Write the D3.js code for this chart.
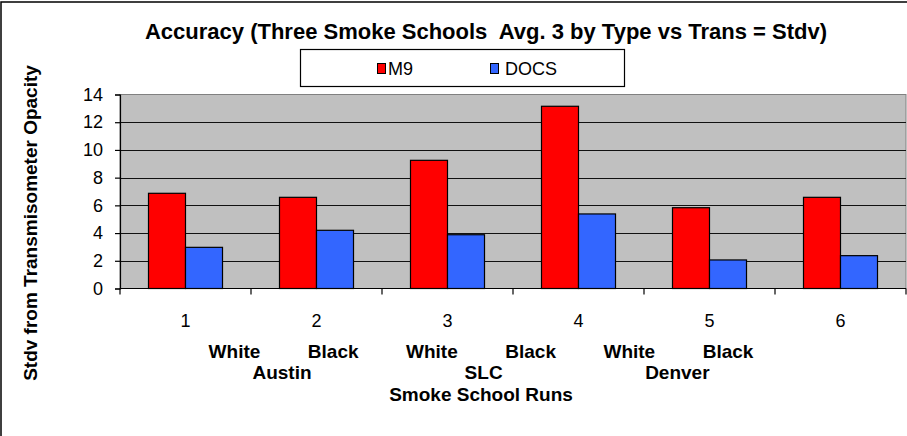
<!DOCTYPE html>
<html>
<head>
<meta charset="utf-8">
<script src="https://cdn.jsdelivr.net/npm/d3@7"></script>
<style>
  html, body { margin: 0; padding: 0; background: #fff; }
  svg { display: block; font-family: "Liberation Sans", Arial, sans-serif; }
</style>
</head>
<body>
<svg id="chart" width="907" height="436"></svg>
<script>
// Smoke school runs and the standard deviation of each reader type
const categories = ["1", "2", "3", "4", "5", "6"];
const seriesNames = ["M9", "DOCS"];
const m9Values   = [6.87, 6.58, 9.25, 13.15, 5.83, 6.58];
const docsValues = [2.97, 4.20, 3.88, 5.38, 2.06, 2.37];
const yTicks = [0, 2, 4, 6, 8, 10, 12, 14];
const seriesColors = ["#FF0000", "#3366FF"];

const titleText = "Accuracy (Three Smoke Schools  Avg. 3 by Type vs Trans = Stdv)";
const yTitleText = "Stdv from Transmisometer Opacity";
const xTitleLines = [
  "White         Black         White         Black         White         Black",
  "Austin                             SLC                           Denver",
  "Smoke School Runs"
];

const svg = d3.select("#chart");
const W = 907, H = 436;
const plot = { left: 120, right: 906, top: 94.5, bottom: 288.5 };

// outer chart frame
svg.append("rect")
  .attr("x", 1).attr("y", 2).attr("width", W + 10).attr("height", H + 10)
  .attr("fill", "#fff").attr("stroke", "#000").attr("stroke-width", 1.5);

const x = d3.scaleBand().domain(categories).range([plot.left, plot.right]).paddingInner(0).paddingOuter(0);
const xSub = d3.scaleBand().domain(seriesNames).range([0, x.bandwidth()]).paddingInner(0).paddingOuter(0.77);
const y = d3.scaleLinear().domain([0, 14]).range([plot.bottom, plot.top]);

// plot background
svg.append("rect")
  .attr("x", plot.left).attr("y", plot.top)
  .attr("width", plot.right - plot.left).attr("height", plot.bottom - plot.top)
  .attr("fill", "#C0C0C0").attr("stroke", "#808080").attr("stroke-width", 1);

// horizontal gridlines
svg.append("g").selectAll("line")
  .data(yTicks.filter(d => d > 0 && d < 14))
  .join("line")
  .attr("x1", plot.left).attr("x2", plot.right)
  .attr("y1", d => Math.round(y(d)) + 0.5).attr("y2", d => Math.round(y(d)) + 0.5)
  .attr("stroke", "#111").attr("stroke-width", 1.2);

// bars
const rows = categories.map((c, i) => ({ cat: c, values: [m9Values[i], docsValues[i]] }));
svg.append("g").selectAll("g")
  .data(rows)
  .join("g")
  .attr("transform", d => `translate(${x(d.cat)},0)`)
  .selectAll("rect")
  .data(d => d.values.map((v, j) => ({ name: seriesNames[j], value: v, color: seriesColors[j] })))
  .join("rect")
  .attr("x", d => xSub(d.name))
  .attr("y", d => y(d.value))
  .attr("width", xSub.bandwidth())
  .attr("height", d => y(0) - y(d.value))
  .attr("fill", d => d.color)
  .attr("stroke", "#000").attr("stroke-width", 1.2);

// y axis
const yAxis = d3.axisLeft(y).tickValues(yTicks).tickSize(5).tickPadding(12).tickFormat(d3.format("d"));
const gy = svg.append("g").attr("transform", `translate(${plot.left},0)`).call(yAxis);
gy.select(".domain").attr("stroke", "#000").attr("stroke-width", 1.2);
gy.selectAll(".tick line").attr("stroke", "#000").attr("stroke-width", 1.2);
gy.selectAll(".tick text").attr("font-size", 18).attr("fill", "#000")
  .attr("font-family", "'Liberation Sans', Arial, sans-serif");

// x axis: ticks at category boundaries, labels at centres
const gx = svg.append("g").attr("transform", `translate(0,${plot.bottom})`);
gx.append("line").attr("x1", plot.left).attr("x2", plot.right).attr("y1", 0).attr("y2", 0)
  .attr("stroke", "#000").attr("stroke-width", 1.2);
const boundaries = categories.map(c => x(c)).concat([x(categories[categories.length - 1]) + x.bandwidth()]);
gx.selectAll("line.tk").data(boundaries).join("line").attr("class", "tk")
  .attr("x1", d => d).attr("x2", d => d).attr("y1", 0).attr("y2", 6)
  .attr("stroke", "#000").attr("stroke-width", 1.2);
gx.selectAll("text").data(categories).join("text")
  .attr("x", d => x(d) + x.bandwidth() / 2).attr("y", 38)
  .attr("text-anchor", "middle").attr("font-size", 18).attr("fill", "#000")
  .text(d => d);

// x axis title (three lines)
const xTitleX = 481;
svg.append("g").selectAll("text").data(xTitleLines).join("text")
  .attr("x", xTitleX).attr("y", (d, i) => 358 + i * 21.3)
  .attr("text-anchor", "middle").attr("font-size", 19).attr("font-weight", "bold")
  .attr("fill", "#000").style("white-space", "pre").attr("xml:space", "preserve")
  .text(d => d);

// y axis title
svg.append("text")
  .attr("transform", "translate(37,223) rotate(-90)")
  .attr("text-anchor", "middle").attr("font-size", 19).attr("font-weight", "bold")
  .attr("fill", "#000").text(yTitleText);

// chart title
svg.append("text")
  .attr("x", 486).attr("y", 39)
  .attr("text-anchor", "middle").attr("font-size", 22).attr("font-weight", "bold")
  .attr("fill", "#000").style("white-space", "pre").attr("xml:space", "preserve")
  .text(titleText);

// legend
const legend = svg.append("g");
legend.append("rect").attr("x", 300.5).attr("y", 49.5).attr("width", 324).attr("height", 37)
  .attr("fill", "#fff").attr("stroke", "#000").attr("stroke-width", 1.2);
const legendX = [377, 490];
const items = legend.selectAll("g.item").data(seriesNames).join("g").attr("class", "item")
  .attr("transform", (d, i) => `translate(${legendX[i]},63)`);
items.append("rect").attr("x", 0.5).attr("y", 0.5).attr("width", 8).attr("height", 10)
  .attr("fill", (d, i) => seriesColors[i]).attr("stroke", "#000").attr("stroke-width", 1);
items.append("text").attr("x", (d, i) => i === 0 ? 11 : 15).attr("y", 11.5)
  .attr("font-size", 18).attr("fill", "#000").text(d => d);
</script>
</body>
</html>
